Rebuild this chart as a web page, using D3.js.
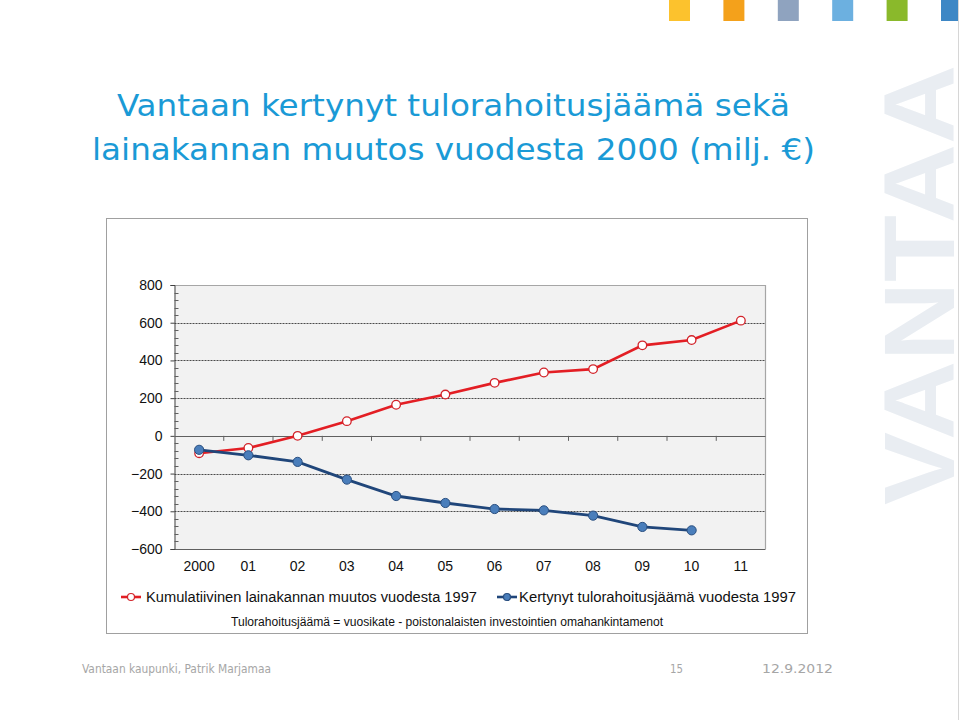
<!DOCTYPE html>
<html><head><meta charset="utf-8">
<script src="https://cdn.jsdelivr.net/npm/d3@7"></script>
<style>body{margin:0;background:#fff}svg{display:block}</style>
</head><body>
<script>
const years = ["2000","01","02","03","04","05","06","07","08","09","10","11"];
const lainakanta = [-92,-64,0,78,165,219,281,336,354,480,508,611];
const tulorahoitus = [-74,-103,-138,-232,-319,-356,-388,-395,-423,-483,-501,null];
const yTicks = [800,600,400,200,0,-200,-400,-600];
const seriesNames = ["Kumulatiivinen lainakannan muutos vuodesta 1997","Kertynyt tulorahoitusjäämä vuodesta 1997"];
const titleLines = ["Vantaan kertynyt tulorahoitusjäämä sekä","lainakannan muutos vuodesta 2000 (milj. €)"];
const note = "Tulorahoitusjäämä = vuosikate - poistonalaisten investointien omahankintamenot";
const squareColors = ["#fcc22d","#f4a11b","#8fa3bf","#6cb0e0","#8ab92b","#3d87c5"];
const footer = ["Vantaan kaupunki, Patrik Marjamaa","15","12.9.2012"];

const svg = d3.select("body").append("svg").attr("width",960).attr("height",720);

// decorative squares
svg.selectAll("rect.sq").data(squareColors).join("rect")
  .attr("x",(d,i)=>669+i*54.4).attr("y",0).attr("width",(d,i)=>i===5?17:21).attr("height",21).attr("fill",d=>d);
// slide right edge
svg.append("line").attr("x1",958.5).attr("x2",958.5).attr("y1",0).attr("y2",720).attr("stroke","#d6d6d6");

// watermark
svg.append("text").attr("transform","translate(954,505) rotate(-90)")
  .attr("font-family","Liberation Sans, Arial, sans-serif").attr("font-weight","bold")
  .attr("font-size",100).attr("fill","#e9edf2")
  .attr("textLength",440).attr("lengthAdjust","spacingAndGlyphs").text("VANTAA");

// title
const tl = [{x:117,y:116,w:673},{x:92,y:160,w:723}];
svg.selectAll("text.title").data(titleLines).join("text")
  .attr("x",(d,i)=>tl[i].x).attr("y",(d,i)=>tl[i].y)
  .attr("textLength",(d,i)=>tl[i].w).attr("lengthAdjust","spacingAndGlyphs")
  .attr("font-family","DejaVu Sans Condensed, DejaVu Sans, sans-serif")
  .attr("font-size",31).attr("fill","#1a9ad6").text(d=>d);

// chart frame
svg.append("rect").attr("x",106.5).attr("y",218.5).attr("width",701).attr("height",415)
  .attr("fill","#fff").attr("stroke","#a0a0a0");

const L=174.5,R=765.5,T=285,B=549;
const x = d3.scalePoint().domain(years).range([L,R]).padding(0.5);
const y = d3.scaleLinear().domain([-600,800]).range([B,T]);

const g = svg.append("g");
g.append("rect").attr("x",L).attr("y",T).attr("width",R-L).attr("height",B-T).attr("fill","#f2f2f2");
// top/right border
g.append("path").attr("d",`M${L},${T+0.5}H${R}V${B}`).attr("fill","none").attr("stroke","#a6a6a6").attr("stroke-width",1.2);
// grid
g.selectAll("line.grid").data(yTicks.filter(v=>v!==0&&v!==800&&v!==-600)).join("line")
  .attr("x1",L).attr("x2",R).attr("y1",d=>Math.round(y(d))+0.5).attr("y2",d=>Math.round(y(d))+0.5)
  .attr("stroke","#4a4a4a").attr("stroke-dasharray","2,1");
// bottom border
g.append("line").attr("x1",L).attr("x2",R).attr("y1",B+0.5).attr("y2",B+0.5).attr("stroke","#606060");

// y axis
const yAxis = d3.axisLeft(y).tickValues(yTicks).tickSize(4).tickPadding(8).tickFormat(d3.format("d"));
const ya = svg.append("g").attr("transform",`translate(${L},0)`).call(yAxis);
ya.select(".domain").attr("stroke","#404040");
ya.selectAll(".tick line").attr("stroke","#404040");
ya.selectAll("text").attr("font-family","Liberation Sans, Arial, sans-serif").attr("font-size",14).attr("fill","#111");
// minor ticks
const minor = d3.range(-600,801,40).filter(v=>v%200!==0);
svg.selectAll("line.minor").data(minor).join("line")
  .attr("x1",L).attr("x2",L+4).attr("y1",d=>Math.round(y(d))+0.5).attr("y2",d=>Math.round(y(d))+0.5)
  .attr("stroke","#606060");

// x axis at zero
const step = x.step();
svg.append("line").attr("x1",L).attr("x2",R).attr("y1",Math.round(y(0))+0.5).attr("y2",Math.round(y(0))+0.5).attr("stroke","#606060");
svg.selectAll("line.xt").data(years.slice(1)).join("line")
  .attr("x1",d=>x(d)-step/2).attr("x2",d=>x(d)-step/2)
  .attr("y1",y(0)).attr("y2",y(0)+5).attr("stroke","#606060");
svg.selectAll("text.xl").data(years).join("text")
  .attr("x",d=>x(d)).attr("y",571).attr("text-anchor","middle")
  .attr("font-family","Liberation Sans, Arial, sans-serif").attr("font-size",14).attr("fill","#111").text(d=>d);

// series
const line = d3.line().defined(d=>d.v!==null).x(d=>x(d.k)).y(d=>y(d.v));
const red = years.map((k,i)=>({k,v:lainakanta[i]}));
const blue = years.map((k,i)=>({k,v:tulorahoitus[i]}));
svg.append("path").datum(red).attr("d",line).attr("fill","none").attr("stroke","#e31e24").attr("stroke-width",2.6);
svg.selectAll("circle.r").data(red).join("circle").attr("cx",d=>x(d.k)).attr("cy",d=>y(d.v)).attr("r",4.3)
  .attr("fill","#fff").attr("stroke","#d2232a").attr("stroke-width",1.3);
svg.append("path").datum(blue).attr("d",line).attr("fill","none").attr("stroke","#20467a").attr("stroke-width",2.8);
svg.selectAll("circle.b").data(blue.filter(d=>d.v!==null)).join("circle").attr("cx",d=>x(d.k)).attr("cy",d=>y(d.v)).attr("r",4.6)
  .attr("fill","#4a7ebb").attr("stroke","#2a4f80").attr("stroke-width",1);

// legend
const lg = [{x0:121,tx:146,col:"#e31e24",fill:"#fff",mst:"#d2232a",w:331},{x0:497,tx:519,col:"#20467a",fill:"#4a7ebb",mst:"#2a4f80",w:277}];
seriesNames.forEach((n,i)=>{
  const o=lg[i];
  svg.append("line").attr("x1",o.x0).attr("x2",o.x0+20).attr("y1",597).attr("y2",597).attr("stroke",o.col).attr("stroke-width",2.6);
  svg.append("circle").attr("cx",o.x0+10).attr("cy",597).attr("r",3.5).attr("fill",o.fill).attr("stroke",o.mst).attr("stroke-width",1.2);
  svg.append("text").attr("x",o.tx).attr("y",602).attr("font-family","Liberation Sans, Arial, sans-serif")
    .attr("font-size",14).attr("fill","#111").attr("textLength",o.w).attr("lengthAdjust","spacingAndGlyphs").text(n);
});
svg.append("text").attr("x",231).attr("y",626).attr("font-family","Liberation Sans Narrow, Liberation Sans, Arial, sans-serif")
  .attr("font-size",12).attr("fill","#111").attr("textLength",432).attr("lengthAdjust","spacingAndGlyphs").text(note);

// footer
const fx=[82,670,762], fw=[189,13,71];
svg.selectAll("text.ft").data(footer).join("text").attr("x",(d,i)=>fx[i]).attr("y",673)
  .attr("font-family","DejaVu Sans Condensed, DejaVu Sans, sans-serif").attr("font-size",12.5).attr("fill","#a6a6a6")
  .attr("textLength",(d,i)=>fw[i]).attr("lengthAdjust","spacingAndGlyphs").text(d=>d);
</script>
</body></html>
